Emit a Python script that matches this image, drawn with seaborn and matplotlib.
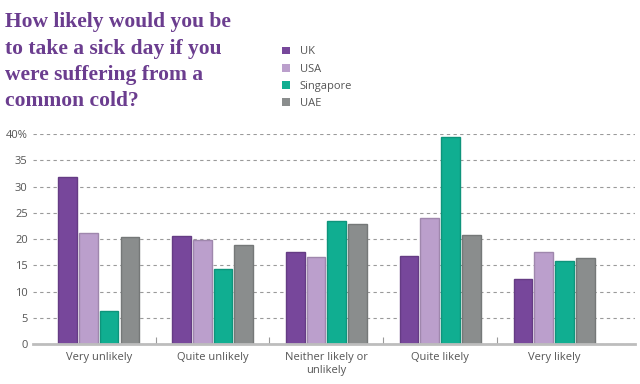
import pandas as pd
import matplotlib.pyplot as plt
import matplotlib.colors as mcolors
import seaborn as sns
from matplotlib.patches import Patch

# answers on the x axis
categories = ['Very unlikely', 'Quite unlikely', 'Neither likely or\nunlikely', 'Quite likely', 'Very likely']
countries = ['UK', 'USA', 'Singapore', 'UAE']

uk = [31.8, 20.5, 17.5, 16.8, 12.4]
usa = [21.1, 19.9, 16.5, 24.1, 17.5]
singapore = [6.3, 14.3, 23.4, 39.4, 15.8]
uae = [20.3, 18.8, 22.8, 20.8, 16.3]

ytick_vals = [0, 5, 10, 15, 20, 25, 30, 35, 40]
ytick_labels = ['0', '5', '10', '15', '20', '25', '30', '35', '40%']

colors = ['#77479b', '#bb9fcc', '#10ae91', '#8a8d8d']

df = pd.DataFrame({'answer': categories * 4,
                   'country': [c for c in countries for _ in categories],
                   'pct': uk + usa + singapore + uae})

sns.set_style('white')
plt.rcParams['font.family'] = ['Open Sans', 'DejaVu Sans']

fig = plt.figure(figsize=(6.4, 3.84), dpi=100)
ax = fig.add_axes([0.052, 0.104, 0.94, 0.547])

sns.barplot(data=df, x='answer', y='pct', hue='country', palette=colors,
            width=0.73, gap=0.1, ax=ax, legend=False, linewidth=1, saturation=1)

# darker outline on each bar
for i, cont in enumerate(ax.containers):
    dark = [c * 0.85 for c in mcolors.to_rgb(colors[i])]
    for p in cont:
        p.set_edgecolor(dark)

ax.set_ylim(0, 40)
ax.set_xlim(-0.575, 4.71)
ax.set_yticks(ytick_vals)
ax.set_yticklabels(ytick_labels)
ax.set_xlabel('')
ax.set_ylabel('')
ax.yaxis.grid(True, linestyle=(0, (3, 3)), color='#9a9a9a', linewidth=0.8)
ax.set_axisbelow(True)
sns.despine(ax=ax, left=True)
ax.spines['bottom'].set_color('#bdbdbd')
ax.spines['bottom'].set_linewidth(2)
ax.tick_params(axis='both', length=0, labelsize=8, colors='#555555', pad=6)
ax.tick_params(axis='y', pad=4)
ax.set_xticks([0.5, 1.5, 2.5, 3.5], minor=True)
ax.tick_params(axis='x', which='minor', bottom=True, direction='in', length=5,
               color='#999999', width=0.8)

fig.text(0.008, 0.968, 'How likely would you be\nto take a sick day if you\nwere suffering from a\ncommon cold?',
         ha='left', va='top', fontsize=15.5, fontweight='bold', color='#6b3d8f',
         family='Liberation Serif', linespacing=1.42)

handles = [Patch(facecolor=c, edgecolor='none') for c in colors]
fig.legend(handles, countries, loc='upper left', bbox_to_anchor=(0.425, 0.905),
           frameon=False, fontsize=8, handlelength=0.7, handleheight=0.7,
           labelspacing=0.55, handletextpad=0.9, labelcolor='#555555')

fig.savefig('out.png', dpi=100)
